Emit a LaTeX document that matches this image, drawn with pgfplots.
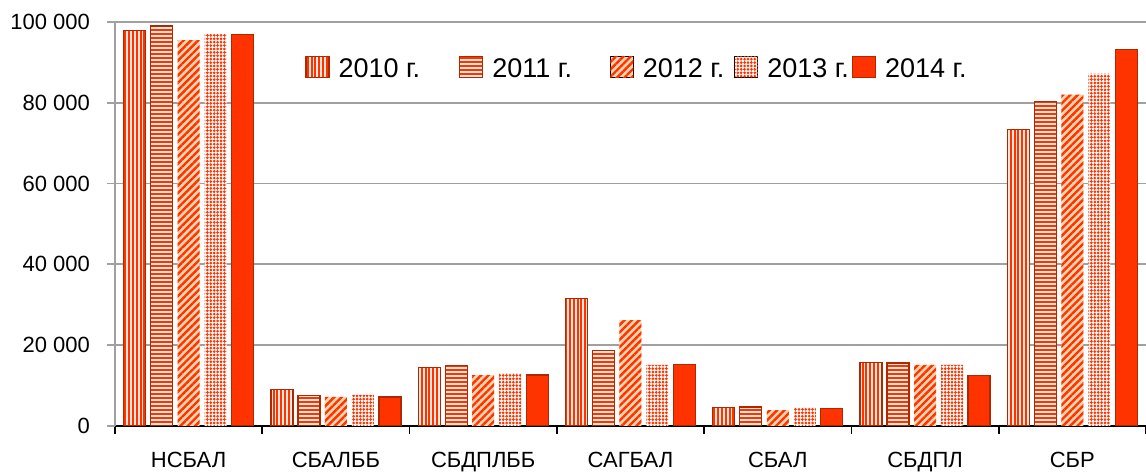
\documentclass[border=0pt]{standalone}
\usepackage{fontspec}
\setmainfont{Liberation Sans}
\usepackage{pgfplots}
\pgfplotsset{compat=1.18}
\usetikzlibrary{patterns.meta}
\definecolor{bar}{HTML}{FF3300}
\definecolor{barEdge}{HTML}{B02800}
\definecolor{peach}{HTML}{FFD6B0}
\definecolor{pinkw}{HTML}{FFE8E0}
\definecolor{gridc}{HTML}{A0A0A0}
\begin{document}
\begin{tikzpicture}
\useasboundingbox (-57.5pt,-24pt) rectangle (515.5pt,213pt);
\begin{axis}[
  at={(0pt,0pt)}, anchor=south west,
  width=515.5pt, height=202pt, scale only axis,
  ybar, bar width=11pt,
  xmin=-0.5, xmax=6.5, ymin=0, ymax=100000,
  scaled y ticks=false,
  axis x line*=bottom, axis y line*=left,
  x axis line style={black, line width=0.9pt, -},
  y axis line style={gridc, line width=0.9pt, -},
  xtick={-0.5,0.5,...,6.5},
  x tick label as interval,
  xticklabels={НСБАЛ,СБАЛББ,СБДПЛББ,САГБАЛ,СБАЛ,СБДПЛ,СБР},
  x tick style={black, line width=0.9pt},
  y tick style={gridc, line width=0.9pt},
  tick align=outside, major tick length=4pt,
  ytick={0,20000,40000,60000,80000,100000},
  yticklabels={0,20 000,40 000,60 000,80 000,100 000},
  ymajorgrids, grid style={gridc, line width=0.9pt},
  ticklabel style={font=\fontsize{11}{13}\selectfont},
  xticklabel style={yshift=-5.5pt},
  yticklabel style={xshift=-5pt},
  area legend,
  legend image code/.code={\draw[#1] (0pt,-4pt) rectangle (11.5pt,6.5pt);},
  legend style={draw=none, fill=none, at={(0.1785,0.930)}, anchor=north west,
    legend columns=5, font=\fontsize{13.5}{16}\selectfont,
    /tikz/every even column/.append style={column sep=0pt},
    /tikz/every odd column/.append style={column sep=2.5pt}},
]
\addplot[bar shift=-27pt, fill=pinkw, draw=barEdge, line width=0.6pt,
  postaction={pattern={Lines[angle=90,distance=1.9pt,line width=1pt]}, pattern color=bar}]
  coordinates {(0,97800) (1,9000) (2,14400) (3,31600) (4,4500) (5,15800) (6,73400)};
\addplot[bar shift=-13.5pt, fill=pinkw, draw=barEdge, line width=0.6pt,
  postaction={pattern={Lines[angle=0,distance=2pt,line width=1pt]}, pattern color=bar}]
  coordinates {(0,99000) (1,7600) (2,14900) (3,18700) (4,4700) (5,15600) (6,80400)};
\addplot[bar shift=0pt, fill=peach, draw=none,
  postaction={pattern={Lines[angle=45,distance=2.6pt,line width=1.2pt]}, pattern color=bar}]
  coordinates {(0,95500) (1,7200) (2,12600) (3,26200) (4,3900) (5,15100) (6,82000)};
\addplot[bar shift=13.5pt, fill=white, draw=none,
  postaction={pattern={Dots[distance=1.7pt,radius=0.75pt]}, pattern color=bar}]
  coordinates {(0,97000) (1,7700) (2,13100) (3,15100) (4,4600) (5,15100) (6,87200)};
\addplot[bar shift=27pt, fill=bar, draw=barEdge, line width=0.6pt]
  coordinates {(0,97000) (1,7200) (2,12600) (3,15300) (4,4300) (5,12400) (6,93100)};
\legend{2010 г.\rule{17.5pt}{0pt},2011 г.\rule{17pt}{0pt},2012 г.\rule{3pt}{0pt},2013 г.\kern-0.5pt,2014 г.}
\end{axis}
\end{tikzpicture}
\end{document}
